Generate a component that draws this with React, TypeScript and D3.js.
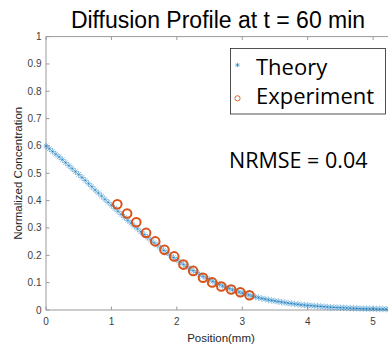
import React from "react";
import * as d3 from "d3";

const theoryX = [
  0.0, 0.05, 0.1, 0.15, 0.2, 0.25, 0.3, 0.35, 0.4, 0.45, 0.5, 0.55, 0.6, 0.65, 0.7, 0.75, 0.8, 0.85, 0.9, 0.95,
  1.0, 1.05, 1.1, 1.15, 1.2, 1.25, 1.3, 1.35, 1.4, 1.45, 1.5, 1.55, 1.6, 1.65, 1.7, 1.75, 1.8, 1.85, 1.9, 1.95,
  2.0, 2.05, 2.1, 2.15, 2.2, 2.25, 2.3, 2.35, 2.4, 2.45, 2.5, 2.55, 2.6, 2.65, 2.7, 2.75, 2.8, 2.85, 2.9, 2.95,
  3.0, 3.05, 3.1, 3.15, 3.2, 3.25, 3.3, 3.35, 3.4, 3.45, 3.5, 3.55, 3.6, 3.65, 3.7, 3.75, 3.8, 3.85, 3.9, 3.95,
  4.0, 4.05, 4.1, 4.15, 4.2, 4.25, 4.3, 4.35, 4.4, 4.45, 4.5, 4.55, 4.6, 4.65, 4.7, 4.75, 4.8, 4.85, 4.9, 4.95,
  5.0, 5.05, 5.1, 5.15, 5.2, 5.25, 5.3,
];
const theoryY = [
  0.6, 0.59, 0.58, 0.57, 0.56, 0.55, 0.539, 0.528, 0.517, 0.506, 0.496, 0.485, 0.474, 0.462, 0.451, 0.439, 0.428, 0.417, 0.405, 0.394,
  0.383, 0.372, 0.361, 0.35, 0.339, 0.328, 0.318, 0.307, 0.297, 0.286, 0.276, 0.266, 0.256, 0.246, 0.237, 0.227, 0.218, 0.209, 0.2, 0.192,
  0.183, 0.175, 0.167, 0.159, 0.151, 0.144, 0.137, 0.13, 0.123, 0.117, 0.111, 0.105, 0.099, 0.094, 0.088, 0.083, 0.079, 0.074, 0.07, 0.066,
  0.062, 0.058, 0.055, 0.051, 0.048, 0.045, 0.042, 0.04, 0.037, 0.035, 0.033, 0.031, 0.029, 0.027, 0.025, 0.024, 0.022, 0.021, 0.019, 0.018,
  0.017, 0.016, 0.015, 0.014, 0.013, 0.012, 0.011, 0.01, 0.0095, 0.009, 0.0085, 0.008, 0.0075, 0.007, 0.0065, 0.006, 0.0055, 0.005, 0.0048, 0.0045,
  0.0042, 0.004, 0.0037, 0.0035, 0.0032, 0.003, 0.0028,
];

const expX = [1.09, 1.24, 1.38, 1.53, 1.67, 1.81, 1.96, 2.1, 2.25, 2.4, 2.54, 2.68, 2.83, 2.97, 3.11];
const expY = [0.387, 0.353, 0.321, 0.282, 0.251, 0.22, 0.196, 0.166, 0.143, 0.118, 0.101, 0.086, 0.075, 0.065, 0.054];

const xTicks = [0, 1, 2, 3, 4, 5];
const yTicks = [0, 0.1, 0.2, 0.3, 0.4, 0.5, 0.6, 0.7, 0.8, 0.9, 1];

const W = 388;
const H = 349;
const FONT = "'Liberation Sans', Arial, Helvetica, sans-serif";
const FONT2 = "'Open Sans', 'Liberation Sans', Arial, sans-serif";

function Star({ cx, cy, r, color, opacity, sw }: { cx: number; cy: number; r: number; color: string; opacity: number; sw: number }) {
  const d = r * 0.7071;
  return (
    <g stroke={color} strokeOpacity={opacity} strokeWidth={sw}>
      <line x1={cx - r} y1={cy} x2={cx + r} y2={cy} />
      <line x1={cx} y1={cy - r} x2={cx} y2={cy + r} />
      <line x1={cx - d} y1={cy - d} x2={cx + d} y2={cy + d} />
      <line x1={cx - d} y1={cy + d} x2={cx + d} y2={cy - d} />
    </g>
  );
}

export default function App() {
  const x = d3.scaleLinear().domain([0, 5.35]).range([46, 396]);
  const y = d3.scaleLinear().domain([0, 1]).range([310, 36.6]);
  const axisColor = "#9a9a9a";
  const tickText = "#404040";
  const blue = "#0072BD";
  const orange = "#D95319";

  return (
    <svg width={W} height={H} style={{ position: "absolute", left: 0, top: 0, background: "#fff" }}>
      <rect x={0} y={0} width={W} height={H} fill="#fff" />
      {/* axes */}
      <line x1={x(0)} y1={y(0)} x2={W} y2={y(0)} stroke={axisColor} strokeWidth={1} />
      <line x1={x(0)} y1={y(1)} x2={W} y2={y(1)} stroke={axisColor} strokeWidth={1} />
      <line x1={x(0)} y1={y(0)} x2={x(0)} y2={y(1)} stroke={axisColor} strokeWidth={1} />
      {xTicks.map((t) => (
        <g key={"xt" + t}>
          <line x1={x(t)} y1={y(0)} x2={x(t)} y2={y(0) - 3.5} stroke={axisColor} />
          <line x1={x(t)} y1={y(1)} x2={x(t)} y2={y(1) + 3.5} stroke={axisColor} />
          <text x={x(t)} y={y(0) + 15} textAnchor="middle" fontFamily={FONT} fontSize={10} fill={tickText}>
            {t}
          </text>
        </g>
      ))}
      {yTicks.map((t) => (
        <g key={"yt" + t}>
          <line x1={x(0)} y1={y(t)} x2={x(0) + 3.5} y2={y(t)} stroke={axisColor} />
          <text x={x(0) - 4.5} y={y(t) + 3.5} textAnchor="end" fontFamily={FONT} fontSize={10} fill={tickText}>
            {t}
          </text>
        </g>
      ))}
      {/* theory */}
      {theoryX.map((tx, i) => (
        <Star key={"th" + i} cx={x(tx)} cy={y(theoryY[i])} r={3.3} color={blue} opacity={0.5} sw={0.85} />
      ))}
      {/* experiment */}
      {expX.map((ex, i) => (
        <circle key={"ex" + i} cx={x(ex)} cy={y(expY[i])} r={4.3} fill="none" stroke={orange} strokeWidth={2} />
      ))}
      {/* title */}
      <text x={218} y={28} textAnchor="middle" fontFamily={FONT} fontSize={23} fill="#000">
        Diffusion Profile at t = 60 min
      </text>
      {/* axis labels */}
      <text x={221} y={342} textAnchor="middle" fontFamily={FONT} fontSize={11.5} fill="#262626">
        Position(mm)
      </text>
      <text
        transform={`translate(22,${(y(0) + y(1)) / 2}) rotate(-90)`}
        textAnchor="middle"
        fontFamily={FONT}
        fontSize={11.5}
        fill="#262626"
      >
        Normalized Concentration
      </text>
      {/* legend */}
      <rect x={230.5} y={48.5} width={155} height={65.5} fill="#fff" stroke="#262626" strokeWidth={0.8} />
      <Star cx={237.5} cy={65} r={2.2} color={blue} opacity={0.8} sw={0.7} />
      <text x={256} y={75} fontFamily={FONT2} fontSize={22} fill="#000">
        Theory
      </text>
      <circle cx={237.5} cy={98.3} r={2.6} fill="none" stroke={orange} strokeWidth={0.9} />
      <text x={256} y={103.5} fontFamily={FONT2} fontSize={22} fill="#000">
        Experiment
      </text>
      <text x={229} y={168} fontFamily={FONT2} fontSize={21.5} fill="#000">
        NRMSE = 0.04
      </text>
    </svg>
  );
}
